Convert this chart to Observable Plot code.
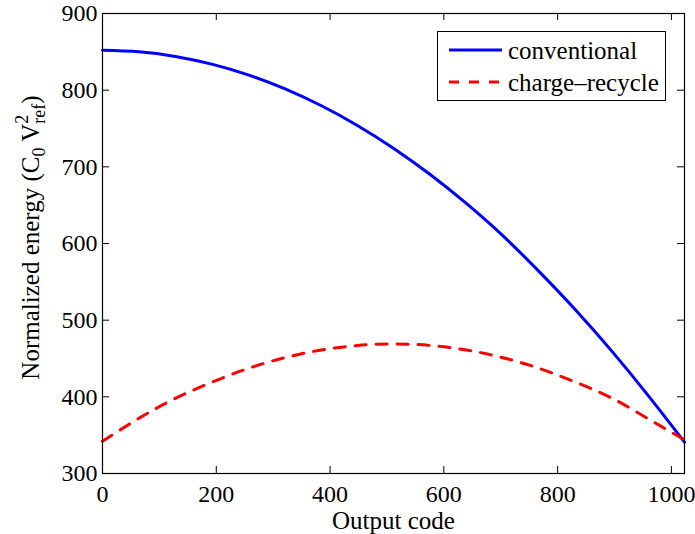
<!DOCTYPE html>
<html>
<head>
<meta charset="utf-8">
<script src="https://cdn.jsdelivr.net/npm/d3@7"></script>
<script src="https://cdn.jsdelivr.net/npm/@observablehq/plot@0.6"></script>
<style>
  html, body { margin: 0; padding: 0; background: white; }
  #wrap { position: relative; width: 695px; height: 534px; font-family: "Liberation Serif", "Times New Roman", serif; }
  #legend { position: absolute; left: 437px; top: 31px; width: 229px; height: 70px; box-sizing: border-box; border: 1px solid black; background: white; }
  #legend svg { position: absolute; left: -1px; top: -1px; overflow: visible; }
</style>
</head>
<body>
<div id="wrap"></div>
<script>
// Output codes (x) and read-off energies (y, in C0·Vref² units)
const codes = [0, 64, 128, 192, 256, 320, 384, 448, 512, 576, 640, 704, 768, 832, 896, 960, 1023];
const conventional = [852, 850, 844, 834, 820, 802, 780, 754, 724, 690, 652, 610, 563, 513, 459, 401, 341];
const chargeRecycle = [342, 372, 398, 419, 437, 451, 461, 467, 469, 467, 461, 451, 437, 419, 398, 371, 344];
const seriesNames = ["conventional", "charge–recycle"];
const seriesColors = ["#0000ff", "#ff0000"];
const xTicks = [0, 200, 400, 600, 800, 1000];
const yTicks = [300, 400, 500, 600, 700, 800, 900];
const xLabel = "Output code";
const yLabelPlain = "Normalized energy (C0 V2ref)";

const convData = codes.map((c, i) => ({code: c, energy: conventional[i]}));
const recData = codes.map((c, i) => ({code: c, energy: chargeRecycle[i]}));

const font = '"Liberation Serif", "Times New Roman", serif';

const chart = Plot.plot({
  width: 695,
  height: 534,
  marginTop: 13,
  marginRight: 11,
  marginBottom: 61,
  marginLeft: 102,
  x: {domain: [0, 1023], label: null},
  y: {domain: [300, 900], label: null},
  style: {fontFamily: font, fontSize: "24px", background: "white", color: "black", overflow: "visible"},
  marks: [
    Plot.line(convData, {x: "code", y: "energy", stroke: seriesColors[0], strokeWidth: 3, curve: "natural"}),
    Plot.line(recData, {x: "code", y: "energy", stroke: seriesColors[1], strokeWidth: 3, strokeDasharray: "11,10", curve: "natural"}),
    Plot.ruleX(xTicks, {x: d => d, insetTop: 453, stroke: "black", strokeWidth: 1}),
    Plot.ruleX(xTicks, {x: d => d, insetBottom: 453, stroke: "black", strokeWidth: 1}),
    Plot.ruleY(yTicks, {y: d => d, insetRight: 575, stroke: "black", strokeWidth: 1}),
    Plot.ruleY(yTicks, {y: d => d, insetLeft: 575, stroke: "black", strokeWidth: 1}),
    Plot.frame({stroke: "black", strokeWidth: 1.2}),
    Plot.axisX({ticks: xTicks, tickSize: 0, tickPadding: 11, fontSize: 24, label: null, tickFormat: d => String(d)}),
    Plot.axisY({ticks: yTicks, tickSize: 0, tickPadding: 5, fontSize: 24, label: null, tickFormat: d => String(d)}),
    Plot.text([xLabel], {text: d => d, frameAnchor: "bottom", dy: 55, lineAnchor: "bottom", fontSize: 25}),
    Plot.text([yLabelPlain], {text: d => d, frameAnchor: "left", dx: -64, dy: -6, rotate: -90, textAnchor: "middle", lineAnchor: "bottom", fontSize: 25})
  ]
});

document.getElementById("wrap").appendChild(chart);

// Rebuild the y label with subscripts / superscripts
d3.select(chart).selectAll("text").filter(function() { return this.textContent === yLabelPlain; }).each(function() {
  const t = d3.select(this);
  t.text(null);
  t.append("tspan").text("Normalized energy (C");
  t.append("tspan").attr("dy", 6).attr("font-size", 18).text("0");
  t.append("tspan").attr("dy", -6).text(" V");
  t.append("tspan").attr("dy", -11).attr("font-size", 18).text("2");
  t.append("tspan").attr("dx", -9).attr("dy", 17).attr("font-size", 18).text("ref");
  t.append("tspan").attr("dy", -6).text(")");
});

// Legend (box at the top right of the axes)
const legend = document.createElement("div");
legend.id = "legend";
const lsvg = d3.create("svg").attr("width", 229).attr("height", 70);
const rows = [19, 51];
seriesNames.forEach((name, i) => {
  const y = rows[i];
  lsvg.append("line").attr("x1", 12).attr("x2", 65).attr("y1", y).attr("y2", y)
    .attr("stroke", seriesColors[i]).attr("stroke-width", 3)
    .attr("stroke-dasharray", i === 1 ? "10,10" : null);
  lsvg.append("text").attr("x", 71).attr("y", y + 8.5)
    .attr("font-family", font).attr("font-size", 25).attr("fill", "black").text(name);
});
legend.appendChild(lsvg.node());
document.getElementById("wrap").appendChild(legend);
</script>
</body>
</html>
